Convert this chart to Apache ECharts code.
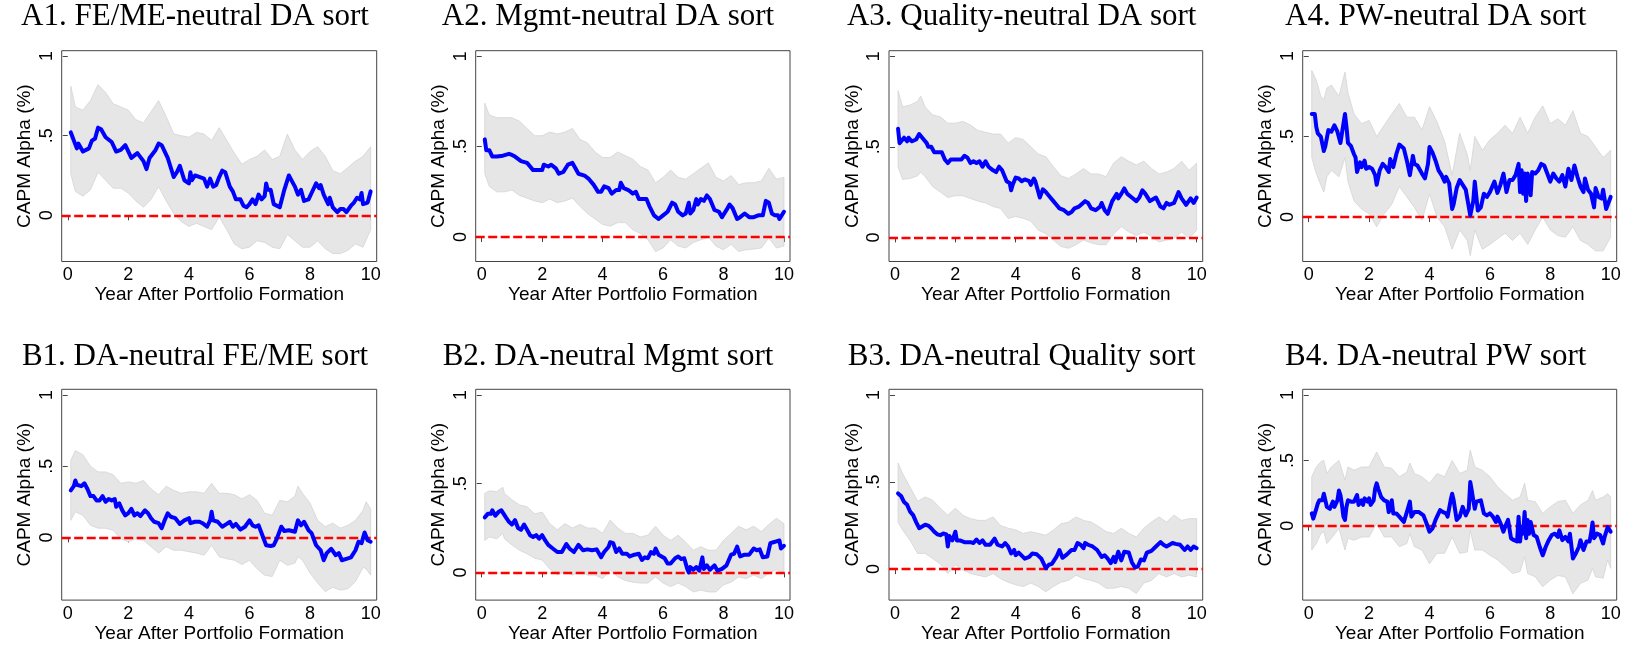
<!DOCTYPE html>
<html>
<head>
<meta charset="utf-8">
<title>CAPM alpha after portfolio formation</title>
<script src="https://cdn.jsdelivr.net/npm/echarts@6/dist/echarts.min.js"></script>
<style>
  html, body { margin: 0; padding: 0; background: #fff; }
  #chart { width: 1631px; height: 647px; }
</style>
</head>
<body>
<div id="chart"></div>
<script>
// ---- data ----
const panelTitles = [
  'A1. FE/ME-neutral DA sort', 'A2. Mgmt-neutral DA sort', 'A3. Quality-neutral DA sort', 'A4. PW-neutral DA sort',
  'B1. DA-neutral FE/ME sort', 'B2. DA-neutral Mgmt sort', 'B3. DA-neutral Quality sort', 'B4. DA-neutral PW sort'
];
const xTickValues = [0, 2, 4, 6, 8, 10];
const yTickValues = [0, 0.5, 1];
const yTickLabels = ['0', '.5', '1'];

// [year, alpha]
const a1Alpha = [[0.1,.52],[0.3,.42],[0.35,.45],[0.5,.40],[0.7,.42],[0.8,.47],[0.9,.48],[1.0,.55],[1.1,.54],[1.25,.49],[1.3,.50],[1.45,.46],[1.6,.40],[1.75,.41],[1.9,.44],[2.1,.36],[2.3,.39],[2.5,.34],[2.6,.29],[2.7,.36],[2.9,.41],[3.0,.45],[3.1,.44],[3.3,.36],[3.4,.30],[3.5,.24],[3.6,.27],[3.7,.31],[3.85,.22],[4.0,.20],[4.05,.27],[4.1,.22],[4.2,.25],[4.5,.23],[4.6,.18],[4.7,.23],[4.8,.18],[4.9,.19],[5.0,.24],[5.1,.28],[5.2,.27],[5.35,.18],[5.45,.15],[5.55,.10],[5.7,.10],[5.8,.06],[5.9,.05],[6.0,.07],[6.1,.10],[6.2,.07],[6.3,.13],[6.4,.10],[6.5,.12],[6.55,.20],[6.6,.16],[6.7,.16],[6.8,.07],[7.0,.05],[7.15,.16],[7.3,.25],[7.35,.24],[7.5,.18],[7.6,.13],[7.7,.16],[7.8,.09],[7.95,.10],[8.05,.14],[8.2,.20],[8.3,.17],[8.35,.19],[8.45,.13],[8.6,.07],[8.65,.11],[8.75,.05],[8.9,.02],[9.0,.04],[9.1,.04],[9.2,.02],[9.35,.06],[9.45,.08],[9.55,.11],[9.65,.10],[9.7,.14],[9.75,.07],[9.9,.08],[10.0,.15]];
const a2Alpha = [[0.1,.54],[0.15,.48],[0.25,.48],[0.35,.445],[0.5,.445],[0.7,.45],[0.9,.46],[1.0,.454],[1.1,.445],[1.3,.42],[1.5,.41],[1.6,.39],[1.7,.37],[2.0,.37],[2.05,.40],[2.2,.39],[2.3,.40],[2.45,.38],[2.55,.35],[2.7,.36],[2.85,.40],[2.9,.39],[3.0,.41],[3.1,.38],[3.2,.35],[3.4,.34],[3.55,.32],[3.7,.29],[3.85,.25],[3.95,.25],[4.05,.28],[4.2,.27],[4.3,.24],[4.45,.26],[4.55,.26],[4.6,.30],[4.7,.27],[4.85,.26],[5.0,.24],[5.1,.25],[5.2,.21],[5.3,.21],[5.45,.21],[5.55,.17],[5.7,.12],[5.85,.10],[6.0,.12],[6.15,.14],[6.3,.19],[6.4,.18],[6.5,.14],[6.65,.12],[6.75,.13],[6.85,.19],[6.9,.13],[7.0,.15],[7.1,.21],[7.15,.18],[7.25,.21],[7.35,.20],[7.45,.23],[7.55,.21],[7.7,.15],[7.85,.14],[7.95,.11],[8.1,.15],[8.2,.18],[8.3,.16],[8.45,.10],[8.55,.11],[8.7,.13],[8.85,.11],[9.0,.11],[9.15,.12],[9.3,.12],[9.4,.20],[9.5,.19],[9.6,.13],[9.7,.12],[9.8,.12],[9.85,.10],[10.0,.14]];
const a3Alpha = [[0.1,.60],[0.15,.52],[0.2,.515],[0.3,.55],[0.4,.53],[0.45,.55],[0.55,.53],[0.6,.54],[0.7,.54],[0.8,.57],[0.85,.58],[0.95,.54],[1.05,.52],[1.1,.50],[1.2,.50],[1.3,.47],[1.45,.47],[1.55,.47],[1.65,.43],[1.75,.41],[1.85,.43],[2.0,.43],[2.2,.43],[2.3,.45],[2.4,.44],[2.5,.41],[2.6,.42],[2.7,.41],[2.8,.42],[2.9,.39],[3.0,.42],[3.1,.39],[3.25,.37],[3.35,.36],[3.45,.39],[3.55,.37],[3.7,.31],[3.8,.30],[3.85,.26],[3.9,.29],[4.0,.33],[4.1,.325],[4.2,.31],[4.3,.32],[4.45,.31],[4.5,.29],[4.6,.325],[4.65,.31],[4.75,.25],[4.8,.22],[4.9,.265],[5.0,.25],[5.1,.23],[5.25,.20],[5.35,.18],[5.45,.16],[5.6,.15],[5.75,.13],[5.85,.14],[5.95,.16],[6.1,.17],[6.3,.20],[6.4,.19],[6.5,.16],[6.55,.17],[6.65,.15],[6.8,.17],[6.85,.19],[6.95,.15],[7.05,.13],[7.2,.20],[7.35,.24],[7.4,.215],[7.5,.24],[7.6,.27],[7.7,.24],[7.85,.22],[8.0,.20],[8.1,.22],[8.2,.26],[8.3,.24],[8.45,.20],[8.55,.21],[8.65,.22],[8.8,.17],[8.9,.16],[9.0,.19],[9.1,.18],[9.25,.19],[9.4,.25],[9.5,.215],[9.65,.18],[9.8,.215],[9.9,.19],[10.0,.22]];
const a4Alpha = [[0.1,.64],[0.2,.64],[0.25,.56],[0.3,.52],[0.4,.50],[0.45,.50],[0.5,.41],[0.55,.44],[0.65,.54],[0.75,.53],[0.85,.57],[0.95,.53],[1.05,.46],[1.1,.52],[1.2,.64],[1.25,.56],[1.3,.46],[1.4,.44],[1.5,.39],[1.55,.37],[1.6,.28],[1.7,.34],[1.75,.31],[1.8,.33],[1.85,.35],[1.9,.30],[2.0,.31],[2.1,.30],[2.2,.26],[2.25,.20],[2.35,.29],[2.45,.33],[2.55,.31],[2.65,.28],[2.7,.36],[2.8,.31],[2.9,.39],[3.0,.45],[3.05,.45],[3.15,.425],[3.25,.35],[3.35,.26],[3.45,.38],[3.5,.33],[3.6,.32],[3.75,.27],[3.85,.24],[3.95,.33],[4.0,.435],[4.1,.40],[4.2,.35],[4.3,.29],[4.4,.26],[4.5,.22],[4.55,.25],[4.65,.21],[4.75,.05],[4.8,.08],[4.9,.18],[5.0,.23],[5.1,.20],[5.2,.17],[5.25,.16],[5.35,.01],[5.45,.10],[5.5,.22],[5.6,.04],[5.7,.06],[5.8,.145],[5.9,.125],[6.0,.155],[6.15,.22],[6.25,.15],[6.35,.20],[6.45,.27],[6.55,.155],[6.65,.23],[6.75,.23],[6.85,.26],[6.95,.33],[7.0,.155],[7.05,.29],[7.1,.145],[7.15,.27],[7.2,.10],[7.25,.27],[7.3,.23],[7.35,.135],[7.4,.28],[7.5,.27],[7.6,.29],[7.7,.33],[7.8,.32],[7.9,.27],[8.0,.22],[8.1,.27],[8.2,.24],[8.3,.22],[8.4,.26],[8.5,.19],[8.6,.30],[8.7,.23],[8.8,.32],[8.9,.25],[9.0,.19],[9.1,.155],[9.15,.24],[9.25,.17],[9.35,.145],[9.45,.06],[9.5,.18],[9.6,.125],[9.7,.115],[9.75,.17],[9.85,.05],[9.9,.05],[10.0,.125]];
const b1Alpha = [[0.1,.33],[0.2,.36],[0.25,.40],[0.3,.37],[0.35,.38],[0.45,.36],[0.55,.38],[0.65,.34],[0.75,.29],[0.85,.29],[0.95,.26],[1.05,.26],[1.15,.29],[1.25,.25],[1.35,.27],[1.45,.26],[1.55,.27],[1.6,.215],[1.7,.24],[1.8,.19],[1.9,.155],[2.0,.17],[2.1,.20],[2.2,.155],[2.3,.17],[2.4,.15],[2.55,.19],[2.65,.17],[2.75,.135],[2.85,.11],[3.0,.10],[3.1,.065],[3.2,.12],[3.3,.17],[3.4,.145],[3.55,.135],[3.7,.095],[3.85,.12],[4.0,.135],[4.05,.10],[4.2,.11],[4.35,.11],[4.45,.10],[4.5,.11],[4.6,.075],[4.7,.12],[4.75,.18],[4.8,.12],[4.95,.11],[5.1,.075],[5.25,.095],[5.35,.11],[5.45,.075],[5.55,.095],[5.7,.055],[5.85,.075],[6.0,.12],[6.1,.085],[6.2,.075],[6.3,.085],[6.4,.03],[6.55,-.055],[6.7,-.06],[6.8,-.055],[6.9,-.01],[7.05,.075],[7.15,.045],[7.3,.05],[7.5,.04],[7.6,.12],[7.7,.085],[7.8,.11],[7.95,.05],[8.05,.03],[8.2,-.055],[8.35,-.09],[8.45,-.16],[8.55,-.11],[8.7,-.08],[8.85,-.125],[8.95,-.11],[9.05,-.16],[9.2,-.15],[9.35,-.14],[9.5,-.09],[9.6,-.03],[9.7,-.04],[9.8,.035],[9.9,-.02],[10.0,-.03]];
const b2Alpha = [[0.1,.31],[0.2,.33],[0.3,.33],[0.35,.35],[0.45,.32],[0.55,.34],[0.65,.35],[0.7,.355],[0.8,.31],[0.9,.285],[1.0,.27],[1.1,.295],[1.2,.25],[1.3,.24],[1.4,.27],[1.5,.24],[1.6,.21],[1.7,.20],[1.8,.21],[1.9,.19],[2.0,.21],[2.1,.18],[2.2,.155],[2.35,.135],[2.5,.115],[2.65,.115],[2.8,.16],[2.9,.135],[3.05,.115],[3.2,.155],[3.35,.125],[3.5,.13],[3.65,.125],[3.8,.13],[3.95,.085],[4.05,.115],[4.2,.145],[4.25,.17],[4.35,.165],[4.45,.115],[4.55,.135],[4.65,.105],[4.8,.105],[4.9,.09],[5.05,.10],[5.2,.105],[5.3,.07],[5.4,.085],[5.5,.08],[5.6,.115],[5.7,.105],[5.75,.135],[5.85,.10],[5.95,.09],[6.05,.08],[6.15,.05],[6.25,.05],[6.4,.08],[6.5,.09],[6.6,.075],[6.7,.08],[6.8,.02],[6.85,0],[6.9,.03],[7.0,.015],[7.1,.03],[7.2,.01],[7.3,.085],[7.35,.02],[7.45,.04],[7.55,.015],[7.7,.04],[7.8,.01],[7.95,.02],[8.1,.04],[8.25,.10],[8.35,.105],[8.45,.145],[8.55,.09],[8.7,.10],[8.85,.10],[9.0,.135],[9.1,.125],[9.2,.13],[9.3,.085],[9.45,.09],[9.55,.165],[9.65,.17],[9.75,.175],[9.85,.18],[9.9,.135],[10.0,.15]];
const b3Alpha = [[0.1,.435],[0.2,.42],[0.3,.385],[0.4,.37],[0.5,.33],[0.6,.31],[0.7,.27],[0.8,.235],[0.9,.245],[1.0,.255],[1.1,.25],[1.2,.235],[1.3,.215],[1.4,.20],[1.5,.195],[1.6,.205],[1.7,.20],[1.75,.13],[1.8,.19],[1.9,.165],[2.0,.215],[2.05,.165],[2.15,.165],[2.3,.155],[2.5,.155],[2.6,.15],[2.7,.17],[2.8,.15],[2.9,.165],[3.0,.14],[3.15,.14],[3.3,.175],[3.4,.14],[3.55,.13],[3.65,.15],[3.75,.13],[3.85,.09],[3.95,.11],[4.0,.08],[4.1,.095],[4.3,.06],[4.45,.07],[4.55,.09],[4.7,.085],[4.85,.06],[5.0,.005],[5.1,.025],[5.2,.03],[5.35,.07],[5.45,.11],[5.55,.065],[5.7,.085],[5.85,.11],[5.95,.11],[6.05,.15],[6.15,.14],[6.25,.12],[6.3,.15],[6.4,.14],[6.55,.13],[6.7,.11],[6.85,.07],[6.95,.08],[7.05,.06],[7.15,.035],[7.25,.07],[7.3,.04],[7.4,.10],[7.5,.05],[7.6,.10],[7.75,.095],[7.85,.04],[7.95,.01],[8.05,.015],[8.15,.055],[8.25,.05],[8.35,.095],[8.5,.105],[8.65,.13],[8.8,.155],[8.9,.14],[9.0,.13],[9.1,.14],[9.2,.15],[9.3,.145],[9.45,.14],[9.6,.11],[9.7,.13],[9.8,.11],[9.9,.13],[10.0,.12]];
const b4Alpha = [[0.1,.095],[0.15,.055],[0.2,.07],[0.25,.13],[0.3,.17],[0.35,.195],[0.45,.195],[0.5,.245],[0.55,.195],[0.6,.145],[0.7,.13],[0.8,.185],[0.85,.145],[0.9,.16],[0.95,.195],[1.0,.27],[1.05,.235],[1.1,.16],[1.15,.07],[1.2,.045],[1.25,.145],[1.3,.195],[1.4,.185],[1.5,.185],[1.55,.195],[1.6,.235],[1.65,.16],[1.75,.195],[1.8,.16],[1.85,.21],[1.95,.185],[2.0,.21],[2.05,.16],[2.15,.195],[2.2,.285],[2.25,.325],[2.3,.285],[2.4,.22],[2.5,.195],[2.6,.185],[2.65,.105],[2.7,.145],[2.75,.195],[2.8,.095],[2.9,.095],[3.0,.07],[3.15,.03],[3.25,.105],[3.35,.185],[3.4,.07],[3.5,.105],[3.65,.105],[3.8,.08],[3.9,.02],[4.0,-.045],[4.1,-.02],[4.2,.045],[4.35,.12],[4.45,.105],[4.55,.095],[4.6,.07],[4.7,.195],[4.75,.245],[4.8,.195],[4.9,.045],[5.0,.07],[5.1,.145],[5.2,.08],[5.3,.13],[5.35,.335],[5.4,.27],[5.45,.195],[5.5,.13],[5.55,.185],[5.6,.195],[5.7,.195],[5.8,.095],[5.9,.08],[6.0,.095],[6.1,.07],[6.2,.03],[6.25,.07],[6.35,.02],[6.45,-.045],[6.5,-.01],[6.6,.045],[6.7,-.095],[6.8,-.11],[6.9,-.12],[6.95,.07],[7.0,-.12],[7.05,-.01],[7.1,-.06],[7.15,.105],[7.2,-.095],[7.25,.045],[7.3,-.06],[7.35,.03],[7.45,-.07],[7.55,-.085],[7.65,-.16],[7.75,-.225],[7.85,-.16],[7.95,-.11],[8.05,-.07],[8.15,-.06],[8.25,-.085],[8.3,-.035],[8.4,-.11],[8.5,-.085],[8.6,-.12],[8.65,-.06],[8.75,-.25],[8.85,-.21],[8.95,-.16],[9.0,-.11],[9.1,-.185],[9.2,-.12],[9.3,-.12],[9.35,-.06],[9.4,.025],[9.45,-.095],[9.55,-.06],[9.65,-.07],[9.75,-.135],[9.8,-.085],[9.9,-.01],[10.0,-.045]];

// [year, lower bound, upper bound]
const a1Band = [[0.1,.26,.81],[0.25,.15,.68],[0.5,.12,.66],[0.75,.16,.72],[1.0,.27,.82],[1.25,.22,.77],[1.5,.17,.70],[1.75,.17,.68],[2.0,.14,.66],[2.25,.09,.60],[2.5,.05,.58],[2.75,.10,.65],[3.0,.18,.72],[3.25,.09,.62],[3.5,.01,.51],[3.75,-.04,.50],[4.0,-.07,.49],[4.25,-.05,.52],[4.5,-.07,.51],[4.75,-.09,.47],[5.0,-.01,.55],[5.25,-.09,.47],[5.5,-.18,.39],[5.75,-.21,.32],[6.0,-.20,.35],[6.25,-.16,.37],[6.5,-.17,.41],[6.75,-.20,.35],[7.0,-.21,.37],[7.25,-.12,.51],[7.5,-.16,.41],[7.75,-.20,.35],[8.0,-.20,.40],[8.25,-.16,.43],[8.5,-.21,.37],[8.75,-.24,.28],[9.0,-.24,.26],[9.25,-.22,.30],[9.5,-.18,.34],[9.75,-.20,.37],[10.0,-.09,.43]];
const a2Band = [[0.1,.35,.74],[0.25,.28,.675],[0.5,.25,.66],[0.75,.25,.66],[1.0,.26,.66],[1.25,.23,.64],[1.5,.215,.60],[1.75,.20,.56],[2.0,.19,.56],[2.25,.21,.58],[2.5,.19,.57],[2.75,.20,.58],[3.0,.215,.60],[3.25,.17,.54],[3.5,.13,.52],[3.75,.10,.47],[4.0,.07,.44],[4.25,.06,.44],[4.5,.08,.47],[4.75,.08,.45],[5.0,.04,.43],[5.25,.02,.39],[5.5,-.015,.37],[5.75,-.08,.30],[6.0,-.06,.33],[6.25,-.015,.37],[6.5,-.05,.33],[6.75,-.06,.32],[7.0,-.03,.35],[7.25,-.015,.38],[7.5,.00,.41],[7.75,-.05,.33],[8.0,-.07,.31],[8.25,-.04,.34],[8.5,-.08,.29],[8.75,-.07,.30],[9.0,-.066,.30],[9.25,-.06,.31],[9.5,-.005,.38],[9.75,-.06,.32],[10.0,-.05,.33]];
const a3Band = [[0.1,.39,.81],[0.25,.32,.72],[0.5,.325,.73],[0.75,.34,.75],[0.85,.36,.78],[1.0,.335,.72],[1.25,.28,.675],[1.5,.25,.665],[1.75,.22,.63],[2.0,.23,.63],[2.25,.23,.64],[2.5,.215,.62],[2.75,.20,.59],[3.0,.19,.58],[3.25,.17,.57],[3.5,.16,.57],[3.75,.105,.52],[4.0,.115,.55],[4.25,.105,.54],[4.5,.09,.50],[4.75,.04,.46],[5.0,.02,.445],[5.25,-.015,.39],[5.5,-.05,.34],[5.75,-.06,.325],[6.0,-.04,.35],[6.25,-.015,.38],[6.5,-.03,.35],[6.75,-.04,.35],[7.0,-.04,.335],[7.25,.02,.41],[7.5,.06,.445],[7.75,.03,.42],[8.0,.01,.40],[8.25,.03,.42],[8.5,.005,.38],[8.75,-.025,.35],[9.0,-.015,.36],[9.25,-.005,.38],[9.5,.03,.42],[9.75,-.005,.37],[10.0,.04,.41]];
const a4Band = [[0.1,.37,.91],[0.25,.27,.85],[0.4,.20,.75],[0.5,.155,.73],[0.6,.25,.80],[0.75,.29,.82],[1.0,.25,.75],[1.2,.37,.90],[1.3,.22,.77],[1.5,.10,.64],[1.75,.05,.58],[2.0,.02,.60],[2.25,-.06,.50],[2.5,.02,.57],[2.75,.08,.64],[3.0,.19,.705],[3.25,.125,.62],[3.5,.06,.62],[3.75,-.02,.54],[4.0,.145,.685],[4.25,.0,.59],[4.5,-.06,.47],[4.75,-.20,.26],[5.0,-.08,.52],[5.25,-.145,.39],[5.35,-.24,.29],[5.5,-.08,.50],[5.75,-.20,.415],[6.0,-.17,.48],[6.25,-.135,.52],[6.5,-.10,.57],[6.75,-.145,.52],[7.0,-.10,.62],[7.25,-.17,.52],[7.5,-.08,.62],[7.75,.0,.69],[8.0,-.08,.58],[8.25,-.115,.61],[8.5,-.125,.57],[8.75,-.06,.66],[9.0,-.145,.52],[9.25,-.17,.50],[9.5,-.21,.435],[9.75,-.21,.37],[10.0,-.125,.415]];
const b1Band = [[0.1,.12,.54],[0.25,.18,.61],[0.5,.155,.58],[0.75,.085,.50],[1.0,.065,.46],[1.25,.065,.46],[1.5,.05,.44],[1.75,-.01,.38],[2.0,-.03,.39],[2.25,-.01,.38],[2.5,-.02,.40],[2.75,-.065,.34],[3.0,-.11,.30],[3.25,-.065,.36],[3.5,-.09,.33],[3.75,-.09,.31],[4.0,-.10,.32],[4.25,-.11,.32],[4.5,-.125,.31],[4.75,-.055,.38],[5.0,-.135,.31],[5.25,-.15,.31],[5.5,-.16,.30],[5.75,-.19,.27],[6.0,-.16,.30],[6.25,-.22,.26],[6.5,-.265,.17],[6.75,-.275,.155],[7.0,-.16,.26],[7.25,-.195,.25],[7.5,-.18,.29],[7.6,-.135,.36],[7.75,-.16,.31],[8.0,-.25,.24],[8.25,-.32,.12],[8.5,-.38,.075],[8.75,-.35,.10],[9.0,-.37,.065],[9.25,-.36,.085],[9.5,-.31,.12],[9.75,-.21,.19],[9.85,-.22,.25],[10.0,-.265,.20]];
const b2Band = [[0.1,.18,.445],[0.25,.20,.46],[0.5,.19,.455],[0.7,.22,.48],[0.75,.19,.445],[1.0,.155,.41],[1.25,.125,.38],[1.5,.105,.37],[1.75,.08,.33],[2.0,.07,.34],[2.25,.02,.275],[2.5,-.015,.24],[2.75,.005,.275],[3.0,-.015,.25],[3.25,.005,.27],[3.5,-.015,.25],[3.75,-.015,.25],[4.0,-.035,.22],[4.25,.015,.295],[4.5,-.025,.25],[4.75,-.045,.22],[5.0,-.055,.22],[5.25,-.06,.20],[5.5,-.06,.21],[5.75,-.025,.26],[6.0,-.06,.21],[6.25,-.08,.18],[6.5,-.06,.21],[6.75,-.08,.17],[7.0,-.11,.125],[7.25,-.10,.145],[7.5,-.11,.125],[7.75,-.11,.125],[8.0,-.07,.18],[8.25,-.055,.22],[8.5,-.025,.26],[8.75,-.035,.24],[9.0,-.015,.26],[9.25,-.035,.23],[9.5,-.005,.27],[9.75,.015,.305],[10.0,-.005,.275]];
const b3Band = [[0.1,.27,.61],[0.25,.225,.55],[0.5,.165,.47],[0.75,.09,.39],[1.0,.09,.415],[1.25,.06,.395],[1.5,.03,.35],[1.75,-.025,.31],[2.0,.025,.35],[2.25,-.005,.31],[2.5,-.025,.29],[2.75,-.035,.28],[3.0,-.045,.28],[3.25,-.025,.30],[3.5,-.055,.25],[3.75,-.075,.235],[4.0,-.09,.225],[4.25,-.10,.205],[4.5,-.08,.215],[4.75,-.10,.205],[5.0,-.13,.195],[5.25,-.10,.225],[5.5,-.075,.26],[5.75,-.065,.27],[6.0,-.035,.30],[6.25,-.055,.28],[6.5,-.065,.27],[6.75,-.08,.245],[7.0,-.11,.215],[7.25,-.11,.205],[7.5,-.10,.235],[7.75,-.11,.205],[8.0,-.14,.185],[8.25,-.08,.235],[8.5,-.065,.27],[8.75,-.025,.30],[9.0,-.045,.27],[9.25,-.025,.31],[9.5,-.045,.28],[9.75,-.035,.29],[10.0,-.045,.29]];
const b4Band = [[0.1,-.185,.375],[0.25,-.135,.45],[0.4,-.06,.49],[0.5,-.045,.50],[0.6,-.135,.40],[0.75,-.095,.45],[1.0,-.02,.50],[1.2,-.185,.35],[1.3,-.095,.45],[1.5,-.11,.425],[1.75,-.085,.45],[2.0,-.085,.45],[2.25,.02,.565],[2.5,-.085,.45],[2.75,-.085,.44],[3.0,-.16,.375],[3.25,-.135,.41],[3.35,-.06,.48],[3.5,-.16,.40],[3.75,-.185,.375],[4.0,-.29,.325],[4.25,-.21,.40],[4.5,-.21,.375],[4.75,-.085,.50],[5.0,-.21,.40],[5.25,-.20,.425],[5.35,-.035,.58],[5.5,-.185,.45],[5.75,-.185,.425],[6.0,-.225,.375],[6.25,-.26,.30],[6.5,-.31,.245],[6.75,-.365,.195],[7.0,-.35,.22],[7.15,-.235,.325],[7.25,-.365,.195],[7.5,-.39,.185],[7.75,-.465,.095],[8.0,-.415,.145],[8.25,-.38,.185],[8.5,-.39,.195],[8.75,-.52,.095],[9.0,-.44,.16],[9.25,-.415,.195],[9.4,-.325,.27],[9.5,-.39,.195],[9.75,-.40,.22],[9.9,-.26,.245],[10.0,-.325,.22]];

const panelAlpha = [a1Alpha, a2Alpha, a3Alpha, a4Alpha, b1Alpha, b2Alpha, b3Alpha, b4Alpha];
const panelBand = [a1Band, a2Band, a3Band, a4Band, b1Band, b2Band, b3Band, b4Band];
// y-axis range of each panel
const yMins = [-0.29, -0.135, -0.133, -0.276, -0.44, -0.156, -0.178, -0.568];
const yMaxs = [1.033, 1.03, 1.03, 1.033, 1.04, 1.032, 1.033, 1.044];

// ---- layout ----
const colLeft = [61.7, 475.7, 889, 1302.7];
const colWidth = [315, 314.3, 313.7, 314];
const rowTop = [50.7, 389.3];
const plotHeight = 210.8;
const titleX = [195, 608, 1021.7, 1435.7];
const titleY = [17, 357];

const axisFont = '"Liberation Sans", Arial, sans-serif';
const frameColor = '#444';

const chart = echarts.init(document.getElementById('chart'));

const grids = [], xAxes = [], yAxes = [], series = [], titles = [];

panelTitles.forEach((name, i) => {
  const col = i % 4;
  const row = Math.floor(i / 4);

  grids.push({
    left: colLeft[col], top: rowTop[row], width: colWidth[col], height: plotHeight,
    show: true, borderColor: frameColor, borderWidth: 1, backgroundColor: 'transparent',
    containLabel: false, outerBoundsMode: 'none'
  });

  xAxes.push({
    type: 'value', gridIndex: i, min: -0.2, max: 10.2,
    name: 'Year After Portfolio Formation', nameLocation: 'middle', nameGap: 22,
    nameTextStyle: { fontFamily: axisFont, fontSize: 19, color: '#000' },
    axisLine: { show: false },
    axisTick: { show: true, inside: false, length: 5, customValues: xTickValues, lineStyle: { color: frameColor, width: 1 } },
    axisLabel: { customValues: xTickValues, margin: 5, fontFamily: axisFont, fontSize: 18, color: '#000' },
    splitLine: { show: false }
  });

  yAxes.push({
    type: 'value', gridIndex: i, min: yMins[i], max: yMaxs[i],
    name: 'CAPM Alpha (%)', nameLocation: 'middle', nameRotate: 90, nameGap: 27,
    nameTextStyle: { fontFamily: axisFont, fontSize: 19, color: '#000' },
    axisLine: { show: false },
    axisTick: { show: true, inside: false, length: 5, customValues: yTickValues, lineStyle: { color: frameColor, width: 1 } },
    axisLabel: {
      customValues: yTickValues, rotate: 90, margin: 6,
      fontFamily: axisFont, fontSize: 18, color: '#000',
      formatter: (v) => {
        const k = yTickValues.findIndex((t) => Math.abs(t - v) < 1e-6);
        return k >= 0 ? yTickLabels[k] : '';
      }
    },
    splitLine: { show: false }
  });

  // confidence band as one polygon
  series.push({
    type: 'custom', xAxisIndex: i, yAxisIndex: i, silent: true, z: 2,
    data: panelBand[i],
    encode: { x: 0, y: [1, 2] },
    renderItem: (params, api) => {
      if (params.dataIndexInside !== 0) return;
      const n = params.dataInsideLength;
      const upper = [], lower = [];
      for (let j = 0; j < n; j++) {
        upper.push(api.coord([api.value(0, j), api.value(2, j)]));
        lower.push(api.coord([api.value(0, j), api.value(1, j)]));
      }
      return {
        type: 'polygon',
        shape: { points: upper.concat(lower.reverse()) },
        style: { fill: '#e6e6e6', stroke: '#d4d4d4', lineWidth: 0.8 }
      };
    }
  });

  // point estimate + zero reference line
  series.push({
    type: 'line', xAxisIndex: i, yAxisIndex: i, silent: true, z: 5,
    data: panelAlpha[i], symbol: 'none', smooth: false,
    lineStyle: { color: '#0000ff', width: 4, join: 'round', cap: 'round' },
    markLine: {
      silent: true, symbol: 'none', label: { show: false },
      lineStyle: { color: '#ff0000', type: [9, 3.5], width: 2.4 },
      data: [{ yAxis: 0 }]
    }
  });

  titles.push({
    type: 'text', x: titleX[col], y: titleY[row],
    style: {
      text: name, fill: '#000', fontFamily: '"Liberation Serif", "Times New Roman", serif',
      fontSize: 31, align: 'center', verticalAlign: 'middle'
    }
  });
});

chart.setOption({
  animation: false,
  backgroundColor: '#fff',
  grid: grids,
  xAxis: xAxes,
  yAxis: yAxes,
  series: series,
  graphic: titles
});

window.addEventListener('resize', () => chart.resize());
</script>
</body>
</html>
